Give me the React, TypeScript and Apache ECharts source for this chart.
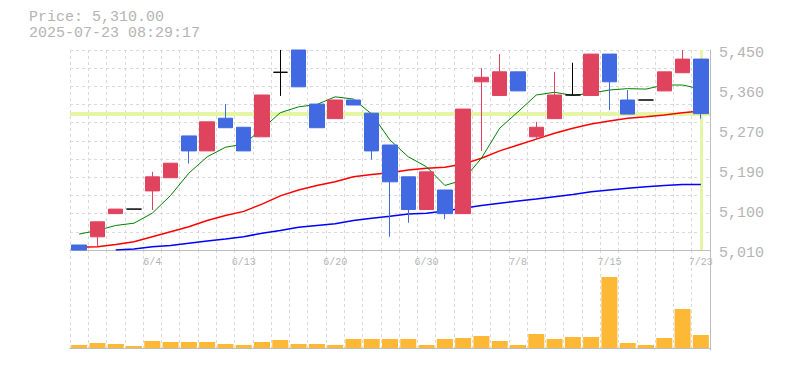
import React, { useEffect, useRef } from 'react';
import * as echarts from 'echarts';

// ---- data ----
const dates = [
  '5/29', '5/30', '6/2', '6/3', '6/4', '6/5', '6/6', '6/10', '6/12', '6/13',
  '6/16', '6/17', '6/18', '6/19', '6/20', '6/23', '6/24', '6/25', '6/27', '6/30',
  '7/1', '7/2', '7/3', '7/7', '7/8', '7/9', '7/10', '7/11', '7/14', '7/15',
  '7/16', '7/17', '7/18', '7/22', '7/23',
];

// [open, close, low, high]
const ohlc = [
  [5021, 5010, 5010, 5021],
  [5039, 5072, 5019, 5072],
  [5090, 5100, 5090, 5100],
  [5100, 5100, 5100, 5100],
  [5140, 5171, 5098, 5182],
  [5169, 5201, 5169, 5201],
  [5261, 5228, 5200, 5261],
  [5228, 5292, 5228, 5292],
  [5300, 5279, 5279, 5331],
  [5280, 5228, 5228, 5280],
  [5259, 5351, 5259, 5351],
  [5401, 5401, 5349, 5450],
  [5450, 5369, 5369, 5450],
  [5331, 5279, 5279, 5331],
  [5299, 5340, 5299, 5340],
  [5340, 5329, 5329, 5340],
  [5311, 5228, 5209, 5311],
  [5241, 5160, 5039, 5241],
  [5171, 5099, 5070, 5171],
  [5099, 5182, 5099, 5182],
  [5142, 5090, 5078, 5142],
  [5090, 5320, 5090, 5320],
  [5380, 5390, 5228, 5410],
  [5350, 5402, 5350, 5441],
  [5402, 5360, 5360, 5402],
  [5259, 5280, 5252, 5292],
  [5299, 5351, 5299, 5402],
  [5351, 5351, 5351, 5422],
  [5350, 5441, 5350, 5441],
  [5441, 5380, 5318, 5441],
  [5340, 5309, 5309, 5362],
  [5340, 5340, 5340, 5340],
  [5360, 5402, 5360, 5402],
  [5400, 5430, 5400, 5450],
  [5430, 5310, 5299, 5430],
];

const maShort = [
  5045, 5053, 5064, 5069, 5091, 5130, 5179, 5215, 5236, 5243,
  5276, 5312, 5325, 5330, 5347, 5342, 5309, 5252, 5215, 5193,
  5152, 5164, 5212, 5278, 5314, 5351, 5357, 5350, 5355, 5362,
  5365, 5364, 5373, 5373, 5364,
];
const maMid = [
  5016, 5017, 5022, 5028, 5039, 5050, 5061, 5075, 5086, 5095,
  5111, 5129, 5142, 5152, 5160, 5171, 5176, 5180, 5186, 5190,
  5192, 5199, 5212, 5228, 5241, 5254, 5267, 5278, 5287, 5294,
  5300, 5303, 5307, 5312, 5316,
];
const maLong = [
  '-', '-', 5010, 5012, 5017, 5020, 5025, 5030, 5034, 5039,
  5047, 5053, 5060, 5064, 5068, 5075, 5080, 5084, 5089, 5091,
  5096, 5102, 5108, 5113, 5118, 5122, 5127, 5132, 5138, 5142,
  5146, 5149, 5152, 5154, 5154,
];

// volume (thousand shares)
const volume = [
  3, 5, 4, 2, 7, 6, 6, 6, 4, 3,
  6, 8, 4, 4, 3, 9, 9, 9, 9, 3,
  9, 10, 12, 7, 3, 14, 9, 11, 11, 71,
  5, 3, 10, 39, 13,
];

const priceTickLabels = ['5,010', '5,100', '5,190', '5,270', '5,360', '5,450'];
const priceMin = 5010;
const priceMax = 5450;
const currentPrice = 5310;
const currentIndex = 34;
const headerPrice = 'Price: 5,310.00';
const headerTime = '2025-07-23 08:29:17';

// ---- styles ----
const RED = '#e0435e';
const BLUE = '#4169e1';
const VOL = '#fdb835';
const TEXT = '#b4b4b4';
const AXIS = '#bdbdbd';
const GRIDLINE = '#dadada';
const HILITE = '#e4f5a6';
const FONT = '"Liberation Mono", "DejaVu Sans Mono", monospace';

const dashed = { show: true, lineStyle: { color: GRIDLINE, type: [3, 3] as any, width: 1 } };

export default function App() {
  const ref = useRef<HTMLDivElement>(null);
  useEffect(() => {
    const chart = echarts.init(ref.current!, null, { renderer: 'svg' });
    const option: any = {
      animation: false,
      backgroundColor: '#ffffff',
      grid: [
        { left: 70, right: 75, top: 50, height: 200 },
        { left: 70, right: 75, top: 250, height: 100 },
      ],
      xAxis: [
        {
          type: 'category', gridIndex: 0, data: dates, boundaryGap: true,
          axisLine: { show: true, lineStyle: { color: AXIS, width: 1 } },
          axisTick: { show: false, interval: 0 },
          axisLabel: {
            interval: (i: number) => i % 5 === 4,
            color: TEXT, fontFamily: FONT, fontSize: 10, margin: 7,
          },
          splitLine: { ...dashed, interval: 0 },
        },
        {
          type: 'category', gridIndex: 1, data: dates, boundaryGap: true,
          axisLine: { show: true, lineStyle: { color: AXIS, width: 1 } },
          axisTick: { show: false },
          axisLabel: { show: false },
          splitLine: { ...dashed, interval: 0 },
        },
      ],
      yAxis: [
        { type: 'value', gridIndex: 0, min: priceMin, max: priceMax, show: false, scale: true },
        {
          type: 'value', gridIndex: 0, min: 0, max: priceTickLabels.length - 1, interval: 1,
          position: 'right',
          axisLine: { show: true, lineStyle: { color: AXIS, width: 1 } },
          axisTick: { show: false },
          splitLine: { show: false },
          axisLabel: {
            formatter: (v: number) => priceTickLabels[Math.round(v)] ?? '',
            color: TEXT, fontFamily: FONT, fontSize: 15, margin: 9,
            verticalAlign: 'top', lineHeight: 6,
          },
        },
        {
          type: 'value', gridIndex: 0, min: 0, max: 11, interval: 1, position: 'left',
          axisLine: { show: false }, axisTick: { show: false }, axisLabel: { show: false },
          splitLine: dashed,
        },
        {
          type: 'value', gridIndex: 1, min: -2, max: 98, position: 'right',
          axisLine: { show: true, lineStyle: { color: AXIS, width: 1 } },
          axisTick: { show: false }, axisLabel: { show: false }, splitLine: { show: false },
        },
      ],
      graphic: [
        {
          type: 'text', left: 29, top: 10,
          style: { text: headerPrice, fill: TEXT, font: `15px ${FONT}`, lineHeight: 15 },
        },
        {
          type: 'text', left: 29, top: 26,
          style: { text: headerTime, fill: TEXT, font: `15px ${FONT}`, lineHeight: 15 },
        },
      ],
      series: [
        {
          type: 'line', xAxisIndex: 0, yAxisIndex: 0, data: maLong, z: 2,
          symbol: 'none', silent: true,
          lineStyle: { color: '#0000ff', width: 1.5 },
          markLine: {
            silent: true, z: 1, symbol: ['none', 'none'], label: { show: false },
            data: [
              { yAxis: currentPrice, lineStyle: { color: HILITE, width: 4, type: 'solid' } },
              { xAxis: currentIndex, lineStyle: { color: HILITE, width: 3, type: 'solid' } },
            ],
          },
        },
        {
          type: 'line', xAxisIndex: 0, yAxisIndex: 0, data: maMid, z: 2,
          symbol: 'none', silent: true, lineStyle: { color: '#ff0000', width: 1.5 },
        },
        {
          type: 'line', xAxisIndex: 0, yAxisIndex: 0, data: maShort, z: 2,
          symbol: 'none', silent: true, lineStyle: { color: '#008000', width: 1 },
        },
        {
          type: 'candlestick', xAxisIndex: 0, yAxisIndex: 0, data: ohlc, z: 3,
          barWidth: 15, silent: true,
          itemStyle: {
            color: RED, color0: BLUE, borderColor: RED, borderColor0: BLUE,
            borderColorDoji: '#000000', borderWidth: 1,
          },
        },
        {
          type: 'bar', xAxisIndex: 1, yAxisIndex: 3, data: volume, barWidth: 16,
          silent: true, itemStyle: { color: VOL },
        },
      ],
    };
    chart.setOption(option);
    return () => chart.dispose();
  }, []);
  return (
    <div
      ref={ref}
      style={{ position: 'fixed', left: 0, top: 0, width: 785, height: 370, background: '#fff' }}
    />
  );
}
